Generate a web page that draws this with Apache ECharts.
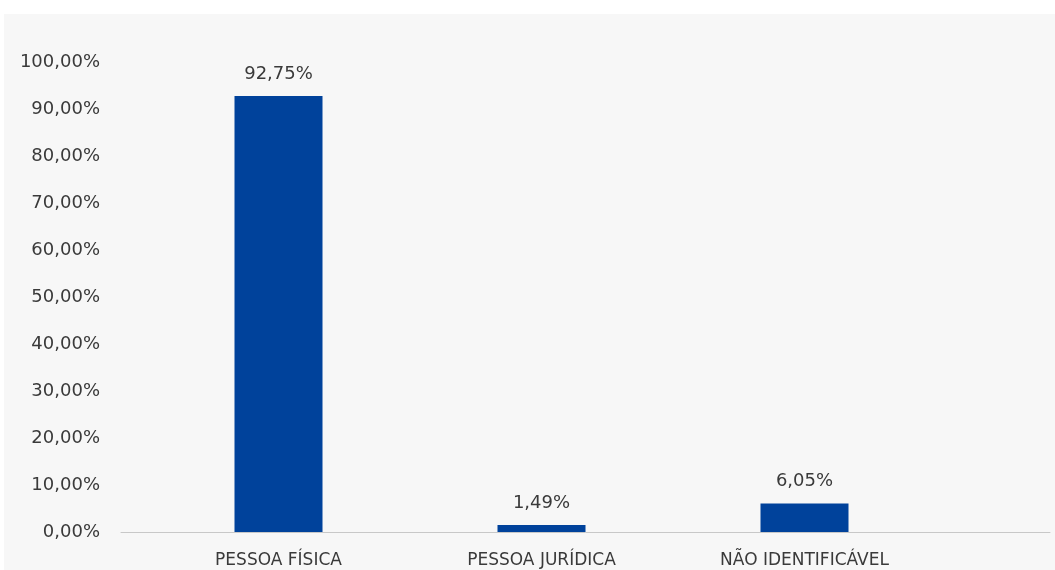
<!DOCTYPE html>
<html>
<head>
<meta charset="utf-8">
<script src="https://cdn.jsdelivr.net/npm/echarts@6/dist/echarts.min.js"></script>
<style>
  html, body { margin: 0; padding: 0; background: #ffffff; }
  #frame { position: absolute; left: 0; top: 0; width: 1055px; height: 570px; background: #ffffff; }
  #chart { position: absolute; left: 4px; top: 14px; width: 1051px; height: 556px; background: #f7f7f7; }
</style>
</head>
<body>
<div id="frame"><div id="chart"></div></div>
<script>
// Distribution by type of person
const categories = ['PESSOA FÍSICA', 'PESSOA JURÍDICA', 'NÃO IDENTIFICÁVEL'];
const shares = [92.75, 1.49, 6.05];
const axisMin = 0;
const axisMax = 100;
const axisStep = 10;

function pct(v) {
  return v.toFixed(2).replace('.', ',') + '%';
}

const chart = echarts.init(document.getElementById('chart'), null, { renderer: 'canvas' });
const textColor = '#3a3a3a';
const font = 'DejaVu Sans';

chart.setOption({
  animation: false,
  backgroundColor: 'transparent',
  grid: [
    { left: 143, right: 119, top: 48, bottom: 38 },
    { left: 117, right: 5, top: 48, bottom: 38 }
  ],
  xAxis: [
    {
      type: 'category',
      gridIndex: 0,
      data: categories,
      axisLine: { show: false },
      axisTick: { show: false },
      axisLabel: { color: textColor, fontFamily: font, fontSize: 17, margin: 20 }
    },
    {
      type: 'value',
      gridIndex: 1,
      min: 0,
      max: 1,
      axisLine: { show: true, onZero: false, lineStyle: { color: '#c8c8c8', width: 1 } },
      axisTick: { show: false },
      axisLabel: { show: false },
      splitLine: { show: false }
    }
  ],
  yAxis: [
    {
      type: 'value',
      gridIndex: 0,
      min: axisMin,
      max: axisMax,
      interval: axisStep,
      axisLine: { show: false },
      axisTick: { show: false },
      splitLine: { show: false },
      axisLabel: {
        color: textColor, fontFamily: font, fontSize: 18, margin: 47,
        formatter: pct
      }
    },
    {
      type: 'value',
      gridIndex: 1,
      min: axisMin,
      max: axisMax,
      show: false
    }
  ],
  series: [{
    type: 'bar',
    xAxisIndex: 0,
    yAxisIndex: 0,
    data: shares,
    barWidth: 88,
    itemStyle: { color: '#00429b' },
    label: {
      show: true,
      position: 'top',
      distance: 13,
      color: textColor,
      fontFamily: font,
      fontSize: 18,
      formatter: p => pct(p.value)
    }
  }]
});
</script>
</body>
</html>
